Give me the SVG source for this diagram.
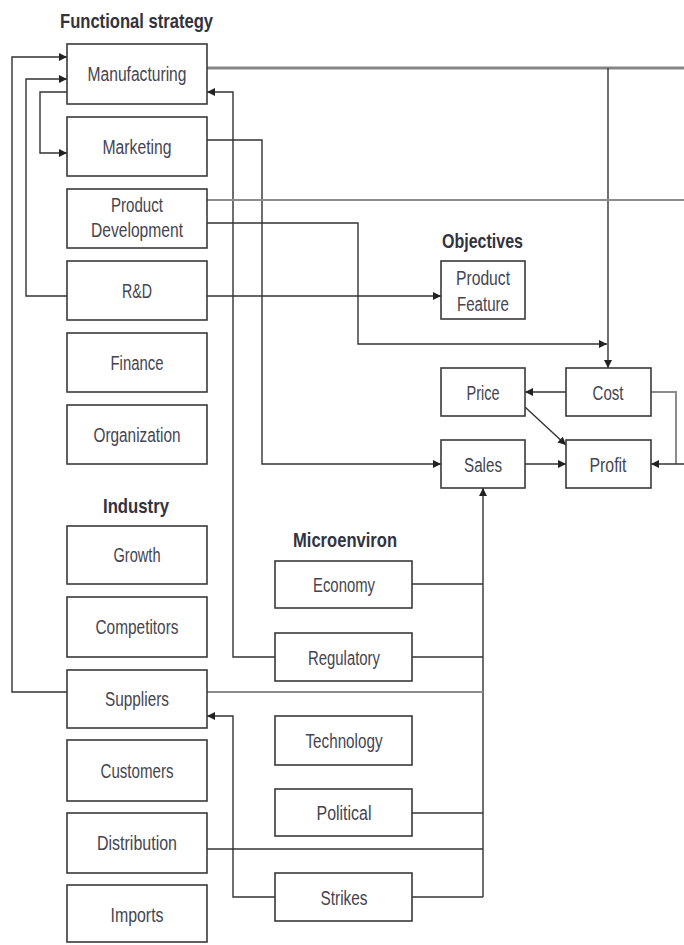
<svg xmlns="http://www.w3.org/2000/svg" width="684" height="945" viewBox="0 0 684 945">
  <style>
    .box { fill: #ffffff; stroke: #3a3a3a; stroke-width: 1.6; }
    .lbl { font-family: "Liberation Sans", Arial, sans-serif; font-size: 19.5px; fill: #45454f; text-anchor: middle; }
    .ttl { font-family: "Liberation Sans", Arial, sans-serif; font-size: 21px; font-weight: bold; fill: #33333d; text-anchor: middle; }
    .ln { fill: none; stroke: #333333; stroke-width: 1.4; }
    .gl { fill: none; stroke: #8c8c8c; stroke-width: 2; }
    .gt { fill: none; stroke: #858585; stroke-width: 2.8; }
  </style>
  <defs>
    <marker id="arr" viewBox="0 0 10 10" refX="10" refY="5" markerWidth="10" markerHeight="8" markerUnits="userSpaceOnUse" orient="auto">
      <path d="M0,0 L10,5 L0,10 z" fill="#222222"/>
    </marker>
  </defs>
  <rect width="684" height="945" fill="#ffffff"/>

  <!-- section titles -->
  <g id="titles">
    <text class="ttl" x="136.5" y="28" textLength="153" lengthAdjust="spacingAndGlyphs">Functional strategy</text>
    <text class="ttl" x="482.5" y="248" textLength="81" lengthAdjust="spacingAndGlyphs">Objectives</text>
    <text class="ttl" x="136" y="513" textLength="66" lengthAdjust="spacingAndGlyphs">Industry</text>
    <text class="ttl" x="345" y="547" textLength="104" lengthAdjust="spacingAndGlyphs">Microenviron</text>
  </g>

  <!-- connectors -->
  <g id="connectors">
    <!-- functional strategy feedback loops on the left -->
    <path class="ln" d="M67,692 H12 V57 H67" marker-end="url(#arr)"/>
    <path class="ln" d="M67,296 H26 V79 H67" marker-end="url(#arr)"/>
    <path class="ln" d="M67,92 H40 V153 H67" marker-end="url(#arr)"/>
    <!-- manufacturing out to the right and down to cost -->
    <path class="gt" d="M207,68 H684"/>
    <path class="ln" d="M608,68 V368" marker-end="url(#arr)"/>
    <!-- regulatory back up to manufacturing -->
    <path class="ln" d="M275,657 H233 V92 H207" marker-end="url(#arr)"/>
    <!-- marketing to sales -->
    <path class="ln" d="M207,140 H262 V464 H441" marker-end="url(#arr)"/>
    <!-- product development -->
    <path class="gl" d="M207,200 H684"/>
    <path class="ln" d="M207,223 H358 V344 H607" marker-end="url(#arr)"/>
    <!-- R&D to product feature -->
    <path class="ln" d="M207,296 H441" marker-end="url(#arr)"/>
    <!-- financial block -->
    <path class="ln" d="M566,392 H525" marker-end="url(#arr)"/>
    <path class="ln" d="M525,407 L566,445" marker-end="url(#arr)"/>
    <path class="ln" d="M525,464 H566" marker-end="url(#arr)"/>
    <path class="gl" d="M651,392 H676 V464"/>
    <path class="ln" d="M684,464 H651" marker-end="url(#arr)"/>
    <!-- environment bus feeding sales -->
    <path class="ln" d="M483,897 V488" marker-end="url(#arr)"/>
    <path class="ln" d="M412,584 H483"/>
    <path class="ln" d="M412,657 H483"/>
    <path class="gl" d="M207,692 H483"/>
    <path class="ln" d="M412,813 H483"/>
    <path class="ln" d="M207,849 H483"/>
    <path class="ln" d="M412,897 H483"/>
    <!-- strikes to suppliers -->
    <path class="ln" d="M275,897 H233 V716 H207" marker-end="url(#arr)"/>
  </g>

  <!-- functional strategy -->
  <g id="manufacturing"><rect class="box" x="67" y="44" width="140" height="60"/><text class="lbl" x="137" y="81" textLength="99" lengthAdjust="spacingAndGlyphs">Manufacturing</text></g>
  <g id="marketing"><rect class="box" x="67" y="117" width="140" height="59"/><text class="lbl" x="137" y="153.5" textLength="69" lengthAdjust="spacingAndGlyphs">Marketing</text></g>
  <g id="product-development"><rect class="box" x="67" y="189" width="140" height="59"/><text class="lbl" x="137" y="212" textLength="52" lengthAdjust="spacingAndGlyphs">Product</text><text class="lbl" x="137" y="237" textLength="92" lengthAdjust="spacingAndGlyphs">Development</text></g>
  <g id="rnd"><rect class="box" x="67" y="261" width="140" height="59"/><text class="lbl" x="137" y="297.5" textLength="30" lengthAdjust="spacingAndGlyphs">R&amp;D</text></g>
  <g id="finance"><rect class="box" x="67" y="333" width="140" height="59"/><text class="lbl" x="137" y="369.5" textLength="53" lengthAdjust="spacingAndGlyphs">Finance</text></g>
  <g id="organization"><rect class="box" x="67" y="405" width="140" height="59"/><text class="lbl" x="137" y="441.5" textLength="87" lengthAdjust="spacingAndGlyphs">Organization</text></g>

  <!-- objectives and results -->
  <g id="product-feature"><rect class="box" x="441" y="261" width="84" height="58"/><text class="lbl" x="483" y="284.5" textLength="54" lengthAdjust="spacingAndGlyphs">Product</text><text class="lbl" x="483" y="310.5" textLength="52" lengthAdjust="spacingAndGlyphs">Feature</text></g>
  <g id="price"><rect class="box" x="441" y="368" width="84" height="48"/><text class="lbl" x="483" y="399.5" textLength="33" lengthAdjust="spacingAndGlyphs">Price</text></g>
  <g id="cost"><rect class="box" x="566" y="368" width="85" height="48"/><text class="lbl" x="608" y="399.5" textLength="31" lengthAdjust="spacingAndGlyphs">Cost</text></g>
  <g id="sales"><rect class="box" x="441" y="440" width="84" height="48"/><text class="lbl" x="483" y="471.5" textLength="38" lengthAdjust="spacingAndGlyphs">Sales</text></g>
  <g id="profit"><rect class="box" x="566" y="440" width="85" height="48"/><text class="lbl" x="608" y="471.5" textLength="37" lengthAdjust="spacingAndGlyphs">Profit</text></g>

  <!-- industry -->
  <g id="growth"><rect class="box" x="67" y="526" width="140" height="58"/><text class="lbl" x="137" y="561.5" textLength="47" lengthAdjust="spacingAndGlyphs">Growth</text></g>
  <g id="competitors"><rect class="box" x="67" y="597" width="140" height="60"/><text class="lbl" x="137" y="633.5" textLength="83" lengthAdjust="spacingAndGlyphs">Competitors</text></g>
  <g id="suppliers"><rect class="box" x="67" y="670" width="140" height="58"/><text class="lbl" x="137" y="705.5" textLength="64" lengthAdjust="spacingAndGlyphs">Suppliers</text></g>
  <g id="customers"><rect class="box" x="67" y="740" width="140" height="61"/><text class="lbl" x="137" y="777.5" textLength="73" lengthAdjust="spacingAndGlyphs">Customers</text></g>
  <g id="distribution"><rect class="box" x="67" y="813" width="140" height="60"/><text class="lbl" x="137" y="849.5" textLength="80" lengthAdjust="spacingAndGlyphs">Distribution</text></g>
  <g id="imports"><rect class="box" x="67" y="885" width="140" height="57"/><text class="lbl" x="137" y="921.5" textLength="53" lengthAdjust="spacingAndGlyphs">Imports</text></g>

  <!-- microenvironment -->
  <g id="economy"><rect class="box" x="275" y="561" width="137" height="47"/><text class="lbl" x="344" y="591.5" textLength="62" lengthAdjust="spacingAndGlyphs">Economy</text></g>
  <g id="regulatory"><rect class="box" x="275" y="633" width="137" height="48"/><text class="lbl" x="344" y="664.5" textLength="72" lengthAdjust="spacingAndGlyphs">Regulatory</text></g>
  <g id="technology"><rect class="box" x="275" y="716" width="137" height="49"/><text class="lbl" x="344" y="747.5" textLength="77" lengthAdjust="spacingAndGlyphs">Technology</text></g>
  <g id="political"><rect class="box" x="275" y="789" width="137" height="47"/><text class="lbl" x="344" y="819.5" textLength="55" lengthAdjust="spacingAndGlyphs">Political</text></g>
  <g id="strikes"><rect class="box" x="275" y="873" width="137" height="48"/><text class="lbl" x="344" y="904.5" textLength="47" lengthAdjust="spacingAndGlyphs">Strikes</text></g>
</svg>
